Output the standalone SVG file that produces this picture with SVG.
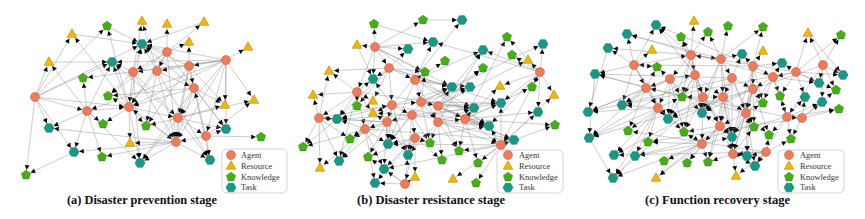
<svg xmlns="http://www.w3.org/2000/svg" xmlns:xlink="http://www.w3.org/1999/xlink" width="865" height="219" viewBox="0 0 865 219">
<style>
.e line{stroke:#8a8a8a;stroke-width:.55;stroke-opacity:.8;marker-end:url(#ar)}
.lg{fill:#fff;stroke:#c8c8c8;stroke-width:.8}
.lt{font-family:"Liberation Serif","Times New Roman",serif;font-size:8.4px;fill:#333}
.cap{font-family:"Liberation Serif","Times New Roman",serif;font-size:12.5px;font-weight:bold;fill:#111}
</style>
<defs>
<marker id="ar" markerUnits="userSpaceOnUse" markerWidth="12" markerHeight="8" viewBox="-12 -4 12 8" refX="0" refY="0" orient="auto"><path d="M-9.8,-2.4 L-5.2,0 L-9.8,2.4z" fill="#000"/></marker>
<circle id="ag" r="4.5" fill="#ef7b59" stroke="#b5553a" stroke-width=".5"/>
<polygon id="rs" points="0,-5.2 4.8,3.3 -4.8,3.3" fill="#f2b705" stroke="#a07a00" stroke-width=".5"/>
<polygon id="kn" points="0,-4.8 4.57,-1.48 2.82,3.88 -2.82,3.88 -4.57,-1.48" fill="#45b013" stroke="#2f7a0c" stroke-width=".5"/>
<polygon id="tk" points="5,0 2.5,4.33 -2.5,4.33 -5,0 -2.5,-4.33 2.5,-4.33" fill="#169a86" stroke="#0d6658" stroke-width=".5"/>
</defs>
<rect width="865" height="219" fill="#fff"/>

<!-- ===== Panel (a) connectors ===== -->
<g id="edges-a" class="e">
<line x1="167" y1="52" x2="142" y2="44"/><line x1="167" y1="52" x2="167" y2="24"/><line x1="167" y1="52" x2="204" y2="22"/><line x1="167" y1="52" x2="133" y2="72"/><line x1="167" y1="52" x2="129" y2="107"/><line x1="167" y1="52" x2="176" y2="142"/><line x1="167" y1="52" x2="226" y2="129"/><line x1="167" y1="52" x2="108" y2="96"/><line x1="167" y1="52" x2="157" y2="71"/><line x1="167" y1="52" x2="189" y2="42"/>
<line x1="189" y1="66" x2="142" y2="44"/><line x1="189" y1="66" x2="189" y2="42"/><line x1="189" y1="66" x2="157" y2="71"/><line x1="189" y1="66" x2="178" y2="118"/><line x1="189" y1="66" x2="176" y2="142"/><line x1="189" y1="66" x2="210" y2="160"/><line x1="189" y1="66" x2="146" y2="126"/><line x1="189" y1="66" x2="225" y2="105"/><line x1="189" y1="66" x2="194" y2="88"/>
<line x1="226" y1="60" x2="248" y2="47"/><line x1="226" y1="60" x2="142" y2="44"/><line x1="226" y1="60" x2="189" y2="66"/><line x1="226" y1="60" x2="133" y2="72"/><line x1="226" y1="60" x2="112" y2="62"/><line x1="226" y1="60" x2="129" y2="107"/><line x1="226" y1="60" x2="176" y2="142"/><line x1="226" y1="60" x2="226" y2="129"/><line x1="226" y1="60" x2="225" y2="105"/><line x1="226" y1="60" x2="87" y2="111"/><line x1="226" y1="60" x2="83" y2="78"/><line x1="226" y1="60" x2="254" y2="100"/><line x1="226" y1="60" x2="206" y2="136"/><line x1="226" y1="60" x2="178" y2="118"/>
<line x1="133" y1="72" x2="142" y2="44"/><line x1="133" y1="72" x2="112" y2="62"/><line x1="133" y1="72" x2="142" y2="21"/><line x1="133" y1="72" x2="129" y2="107"/><line x1="133" y1="72" x2="176" y2="142"/><line x1="133" y1="72" x2="108" y2="96"/><line x1="133" y1="72" x2="178" y2="118"/><line x1="133" y1="72" x2="140" y2="163"/>
<line x1="157" y1="71" x2="142" y2="44"/><line x1="157" y1="71" x2="142" y2="21"/><line x1="157" y1="71" x2="176" y2="142"/><line x1="157" y1="71" x2="146" y2="126"/><line x1="157" y1="71" x2="129" y2="107"/><line x1="157" y1="71" x2="194" y2="88"/><line x1="157" y1="71" x2="210" y2="160"/>
<line x1="194" y1="88" x2="176" y2="142"/><line x1="194" y1="88" x2="178" y2="118"/><line x1="194" y1="88" x2="226" y2="129"/><line x1="194" y1="88" x2="225" y2="105"/><line x1="194" y1="88" x2="142" y2="44"/><line x1="194" y1="88" x2="129" y2="107"/><line x1="194" y1="88" x2="140" y2="163"/><line x1="194" y1="88" x2="108" y2="96"/>
<line x1="35" y1="97" x2="72" y2="34"/><line x1="35" y1="97" x2="49" y2="62"/><line x1="35" y1="97" x2="107" y2="26"/><line x1="35" y1="97" x2="49" y2="128"/><line x1="35" y1="97" x2="74" y2="152"/><line x1="35" y1="97" x2="87" y2="111"/><line x1="35" y1="97" x2="142" y2="44"/><line x1="35" y1="97" x2="26" y2="175"/><line x1="35" y1="97" x2="129" y2="107"/><line x1="35" y1="97" x2="112" y2="62"/>
<line x1="87" y1="111" x2="83" y2="78"/><line x1="87" y1="111" x2="112" y2="62"/><line x1="87" y1="111" x2="103" y2="124"/><line x1="87" y1="111" x2="49" y2="128"/><line x1="87" y1="111" x2="74" y2="152"/><line x1="87" y1="111" x2="102" y2="157"/><line x1="87" y1="111" x2="129" y2="107"/><line x1="87" y1="111" x2="49" y2="62"/><line x1="87" y1="111" x2="140" y2="163"/>
<line x1="129" y1="107" x2="142" y2="44"/><line x1="129" y1="107" x2="112" y2="62"/><line x1="129" y1="107" x2="108" y2="96"/><line x1="129" y1="107" x2="146" y2="126"/><line x1="129" y1="107" x2="130" y2="143"/><line x1="129" y1="107" x2="140" y2="163"/><line x1="129" y1="107" x2="176" y2="142"/><line x1="129" y1="107" x2="178" y2="118"/><line x1="129" y1="107" x2="103" y2="124"/><line x1="129" y1="107" x2="72" y2="34"/><line x1="129" y1="107" x2="107" y2="26"/>
<line x1="178" y1="118" x2="226" y2="129"/><line x1="178" y1="118" x2="206" y2="136"/><line x1="178" y1="118" x2="176" y2="142"/><line x1="178" y1="118" x2="225" y2="105"/><line x1="178" y1="118" x2="146" y2="126"/><line x1="178" y1="118" x2="210" y2="160"/><line x1="178" y1="118" x2="140" y2="163"/><line x1="178" y1="118" x2="254" y2="100"/><line x1="178" y1="118" x2="112" y2="62"/>
<line x1="206" y1="136" x2="261" y2="137"/><line x1="206" y1="136" x2="210" y2="160"/><line x1="206" y1="136" x2="226" y2="129"/><line x1="206" y1="136" x2="176" y2="142"/><line x1="206" y1="136" x2="254" y2="100"/><line x1="206" y1="136" x2="194" y2="88"/>
<line x1="176" y1="142" x2="140" y2="163"/><line x1="176" y1="142" x2="130" y2="143"/><line x1="176" y1="142" x2="210" y2="160"/><line x1="176" y1="142" x2="74" y2="152"/><line x1="176" y1="142" x2="102" y2="157"/><line x1="176" y1="142" x2="129" y2="107"/><line x1="176" y1="142" x2="49" y2="128"/>
<line x1="74" y1="152" x2="26" y2="175"/><line x1="107" y1="26" x2="142" y2="44"/><line x1="72" y1="34" x2="142" y2="44"/><line x1="204" y1="22" x2="142" y2="44"/><line x1="49" y1="62" x2="112" y2="62"/>
</g>

<!-- ===== Panel (a) nodes ===== -->
<g id="a-A1"><use href="#ag" x="167" y="52"/></g><g id="a-A2"><use href="#ag" x="189" y="66"/></g><g id="a-A3"><use href="#ag" x="226" y="60"/></g><g id="a-A4"><use href="#ag" x="133" y="72"/></g><g id="a-A5"><use href="#ag" x="157" y="71"/></g><g id="a-A6"><use href="#ag" x="194" y="88"/></g><g id="a-A7"><use href="#ag" x="35" y="97"/></g><g id="a-A8"><use href="#ag" x="87" y="111"/></g><g id="a-A9"><use href="#ag" x="129" y="107"/></g><g id="a-A10"><use href="#ag" x="178" y="118"/></g><g id="a-A11"><use href="#ag" x="206" y="136"/></g><g id="a-A12"><use href="#ag" x="176" y="142"/></g>
<g id="a-R1"><use href="#rs" x="142" y="21"/></g><g id="a-R2"><use href="#rs" x="167" y="24"/></g><g id="a-R3"><use href="#rs" x="204" y="22"/></g><g id="a-R4"><use href="#rs" x="72" y="34"/></g><g id="a-R5"><use href="#rs" x="189" y="42"/></g><g id="a-R6"><use href="#rs" x="248" y="47"/></g><g id="a-R7"><use href="#rs" x="49" y="62"/></g><g id="a-R8"><use href="#rs" x="225" y="105"/></g><g id="a-R9"><use href="#rs" x="254" y="100"/></g><g id="a-R10"><use href="#rs" x="130" y="143"/></g>
<g id="a-K1"><use href="#kn" x="107" y="26"/></g><g id="a-K2"><use href="#kn" x="83" y="78"/></g><g id="a-K3"><use href="#kn" x="108" y="96"/></g><g id="a-K4"><use href="#kn" x="103" y="124"/></g><g id="a-K5"><use href="#kn" x="146" y="126"/></g><g id="a-K6"><use href="#kn" x="102" y="157"/></g><g id="a-K7"><use href="#kn" x="261" y="137"/></g><g id="a-K8"><use href="#kn" x="26" y="175"/></g>
<g id="a-T1"><use href="#tk" x="142" y="44"/></g><g id="a-T2"><use href="#tk" x="112" y="62"/></g><g id="a-T3"><use href="#tk" x="49" y="128"/></g><g id="a-T4"><use href="#tk" x="74" y="152"/></g><g id="a-T5"><use href="#tk" x="140" y="163"/></g><g id="a-T6"><use href="#tk" x="210" y="160"/></g><g id="a-T7"><use href="#tk" x="226" y="129"/></g>

<g id="legend-a">
<rect class="lg" x="222" y="149" width="65" height="44" rx="5"/>
<use href="#ag" x="231" y="155"/><text class="lt" x="241" y="158">Agent</text>
<use href="#rs" x="231" y="166"/><text class="lt" x="241" y="168.7">Resource</text>
<use href="#kn" x="231" y="177"/><text class="lt" x="241" y="179.7">Knowledge</text>
<use href="#tk" x="231" y="187.5"/><text class="lt" x="241" y="190.3">Task</text>
</g>
<text class="cap" x="67" y="204" textLength="150" lengthAdjust="spacingAndGlyphs">(a) Disaster prevention stage</text>

<!-- ===== Panel (b) connectors ===== -->
<g id="edges-b" class="e">
<line x1="375" y1="47" x2="374" y2="24"/><line x1="375" y1="47" x2="357" y2="45"/><line x1="375" y1="47" x2="408" y2="49"/><line x1="375" y1="47" x2="373" y2="79"/><line x1="375" y1="47" x2="423" y2="20"/><line x1="375" y1="47" x2="433" y2="42"/><line x1="375" y1="47" x2="389" y2="68"/><line x1="375" y1="47" x2="357" y2="92"/><line x1="375" y1="47" x2="425" y2="72"/><line x1="375" y1="47" x2="452" y2="87"/><line x1="375" y1="47" x2="489" y2="126"/>
<line x1="389" y1="68" x2="373" y2="79"/><line x1="389" y1="68" x2="408" y2="49"/><line x1="389" y1="68" x2="329" y2="71"/><line x1="389" y1="68" x2="425" y2="72"/><line x1="389" y1="68" x2="415" y2="80"/><line x1="389" y1="68" x2="452" y2="87"/><line x1="389" y1="68" x2="392" y2="105"/><line x1="389" y1="68" x2="373" y2="101"/><line x1="389" y1="68" x2="337" y2="119"/><line x1="389" y1="68" x2="357" y2="106"/><line x1="389" y1="68" x2="501" y2="103"/>
<line x1="415" y1="80" x2="452" y2="87"/><line x1="415" y1="80" x2="470" y2="87"/><line x1="415" y1="80" x2="433" y2="42"/><line x1="415" y1="80" x2="445" y2="61"/><line x1="415" y1="80" x2="425" y2="72"/><line x1="415" y1="80" x2="421" y2="102"/><line x1="415" y1="80" x2="474" y2="108"/><line x1="415" y1="80" x2="489" y2="126"/><line x1="415" y1="80" x2="438" y2="122"/><line x1="415" y1="80" x2="388" y2="144"/><line x1="415" y1="80" x2="483" y2="50"/>
<line x1="357" y1="92" x2="313" y2="95"/><line x1="357" y1="92" x2="329" y2="71"/><line x1="357" y1="92" x2="373" y2="79"/><line x1="357" y1="92" x2="357" y2="106"/><line x1="357" y1="92" x2="337" y2="119"/><line x1="357" y1="92" x2="319" y2="118"/><line x1="357" y1="92" x2="373" y2="101"/><line x1="357" y1="92" x2="373" y2="113"/><line x1="357" y1="92" x2="365" y2="129"/><line x1="357" y1="92" x2="339" y2="161"/><line x1="357" y1="92" x2="474" y2="108"/>
<line x1="392" y1="105" x2="337" y2="119"/><line x1="392" y1="105" x2="373" y2="113"/><line x1="392" y1="105" x2="387" y2="122"/><line x1="392" y1="105" x2="388" y2="144"/><line x1="392" y1="105" x2="412" y2="115"/><line x1="392" y1="105" x2="350" y2="139"/><line x1="392" y1="105" x2="408" y2="155"/><line x1="392" y1="105" x2="421" y2="102"/><line x1="392" y1="105" x2="373" y2="79"/><line x1="392" y1="105" x2="452" y2="87"/><line x1="392" y1="105" x2="489" y2="126"/><line x1="392" y1="105" x2="462" y2="20"/>
<line x1="421" y1="102" x2="452" y2="87"/><line x1="421" y1="102" x2="470" y2="87"/><line x1="421" y1="102" x2="474" y2="108"/><line x1="421" y1="102" x2="425" y2="72"/><line x1="421" y1="102" x2="438" y2="106"/><line x1="421" y1="102" x2="489" y2="126"/><line x1="421" y1="102" x2="388" y2="144"/><line x1="421" y1="102" x2="438" y2="122"/><line x1="421" y1="102" x2="430" y2="143"/><line x1="421" y1="102" x2="501" y2="103"/><line x1="421" y1="102" x2="543" y2="44"/>
<line x1="438" y1="106" x2="470" y2="87"/><line x1="438" y1="106" x2="474" y2="108"/><line x1="438" y1="106" x2="489" y2="126"/><line x1="438" y1="106" x2="501" y2="103"/><line x1="438" y1="106" x2="483" y2="68"/><line x1="438" y1="106" x2="514" y2="140"/><line x1="438" y1="106" x2="465" y2="119"/><line x1="438" y1="106" x2="459" y2="151"/><line x1="438" y1="106" x2="452" y2="87"/><line x1="438" y1="106" x2="483" y2="50"/><line x1="438" y1="106" x2="528" y2="60"/>
<line x1="412" y1="115" x2="388" y2="144"/><line x1="412" y1="115" x2="408" y2="155"/><line x1="412" y1="115" x2="415" y2="138"/><line x1="412" y1="115" x2="430" y2="143"/><line x1="412" y1="115" x2="337" y2="119"/><line x1="412" y1="115" x2="489" y2="126"/><line x1="412" y1="115" x2="474" y2="108"/><line x1="412" y1="115" x2="387" y2="122"/><line x1="412" y1="115" x2="373" y2="113"/><line x1="412" y1="115" x2="483" y2="68"/>
<line x1="387" y1="122" x2="337" y2="119"/><line x1="387" y1="122" x2="373" y2="113"/><line x1="387" y1="122" x2="388" y2="144"/><line x1="387" y1="122" x2="350" y2="139"/><line x1="387" y1="122" x2="339" y2="161"/><line x1="387" y1="122" x2="384" y2="169"/><line x1="387" y1="122" x2="365" y2="129"/><line x1="387" y1="122" x2="368" y2="157"/><line x1="387" y1="122" x2="408" y2="155"/><line x1="387" y1="122" x2="319" y2="118"/><line x1="387" y1="122" x2="501" y2="103"/>
<line x1="438" y1="122" x2="489" y2="126"/><line x1="438" y1="122" x2="430" y2="143"/><line x1="438" y1="122" x2="459" y2="151"/><line x1="438" y1="122" x2="514" y2="140"/><line x1="438" y1="122" x2="501" y2="145"/><line x1="438" y1="122" x2="474" y2="108"/><line x1="438" y1="122" x2="442" y2="160"/><line x1="438" y1="122" x2="408" y2="155"/><line x1="438" y1="122" x2="465" y2="119"/><line x1="438" y1="122" x2="483" y2="50"/>
<line x1="465" y1="119" x2="489" y2="126"/><line x1="465" y1="119" x2="501" y2="103"/><line x1="465" y1="119" x2="514" y2="140"/><line x1="465" y1="119" x2="459" y2="151"/><line x1="465" y1="119" x2="478" y2="163"/><line x1="465" y1="119" x2="501" y2="145"/><line x1="465" y1="119" x2="474" y2="108"/><line x1="465" y1="119" x2="538" y2="112"/><line x1="465" y1="119" x2="532" y2="87"/><line x1="465" y1="119" x2="500" y2="86"/><line x1="465" y1="119" x2="555" y2="125"/><line x1="465" y1="119" x2="507" y2="37"/>
<line x1="365" y1="129" x2="350" y2="139"/><line x1="365" y1="129" x2="339" y2="161"/><line x1="365" y1="129" x2="303" y2="147"/><line x1="365" y1="129" x2="388" y2="144"/><line x1="365" y1="129" x2="320" y2="168"/><line x1="365" y1="129" x2="384" y2="169"/><line x1="365" y1="129" x2="337" y2="119"/><line x1="365" y1="129" x2="375" y2="183"/><line x1="365" y1="129" x2="514" y2="140"/>
<line x1="319" y1="118" x2="313" y2="95"/><line x1="319" y1="118" x2="337" y2="119"/><line x1="319" y1="118" x2="303" y2="147"/><line x1="319" y1="118" x2="339" y2="161"/><line x1="319" y1="118" x2="320" y2="168"/><line x1="319" y1="118" x2="350" y2="139"/><line x1="319" y1="118" x2="329" y2="71"/><line x1="319" y1="118" x2="392" y2="105"/>
<line x1="415" y1="138" x2="408" y2="155"/><line x1="415" y1="138" x2="430" y2="143"/><line x1="415" y1="138" x2="384" y2="169"/><line x1="415" y1="138" x2="415" y2="177"/><line x1="415" y1="138" x2="442" y2="160"/><line x1="415" y1="138" x2="388" y2="144"/><line x1="415" y1="138" x2="405" y2="184"/><line x1="415" y1="138" x2="368" y2="157"/><line x1="415" y1="138" x2="375" y2="183"/><line x1="415" y1="138" x2="489" y2="126"/>
<line x1="501" y1="145" x2="514" y2="140"/><line x1="501" y1="145" x2="478" y2="163"/><line x1="501" y1="145" x2="453" y2="179"/><line x1="501" y1="145" x2="476" y2="183"/><line x1="501" y1="145" x2="489" y2="126"/><line x1="501" y1="145" x2="555" y2="125"/><line x1="501" y1="145" x2="538" y2="112"/><line x1="501" y1="145" x2="540" y2="72"/><line x1="501" y1="145" x2="459" y2="151"/><line x1="501" y1="145" x2="501" y2="103"/><line x1="501" y1="145" x2="554" y2="95"/><line x1="501" y1="145" x2="384" y2="169"/><line x1="501" y1="145" x2="388" y2="144"/>
<line x1="540" y1="72" x2="543" y2="44"/><line x1="540" y1="72" x2="512" y2="55"/><line x1="540" y1="72" x2="528" y2="60"/><line x1="540" y1="72" x2="532" y2="87"/><line x1="540" y1="72" x2="554" y2="95"/><line x1="540" y1="72" x2="538" y2="112"/><line x1="540" y1="72" x2="501" y2="103"/><line x1="540" y1="72" x2="483" y2="50"/><line x1="540" y1="72" x2="507" y2="37"/><line x1="540" y1="72" x2="500" y2="86"/><line x1="540" y1="72" x2="489" y2="126"/><line x1="540" y1="72" x2="433" y2="42"/>
<line x1="405" y1="184" x2="375" y2="183"/><line x1="405" y1="184" x2="415" y2="177"/><line x1="405" y1="184" x2="384" y2="169"/><line x1="405" y1="184" x2="368" y2="157"/><line x1="405" y1="184" x2="408" y2="155"/>
<line x1="423" y1="20" x2="462" y2="20"/><line x1="374" y1="24" x2="433" y2="42"/><line x1="337" y1="119" x2="303" y2="147"/><line x1="357" y1="45" x2="373" y2="79"/>
</g>

<!-- ===== Panel (b) nodes ===== -->
<g id="b-A1"><use href="#ag" x="375" y="47"/></g><g id="b-A2"><use href="#ag" x="389" y="68"/></g><g id="b-A3"><use href="#ag" x="415" y="80"/></g><g id="b-A4"><use href="#ag" x="357" y="92"/></g><g id="b-A5"><use href="#ag" x="392" y="105"/></g><g id="b-A6"><use href="#ag" x="421" y="102"/></g><g id="b-A7"><use href="#ag" x="438" y="106"/></g><g id="b-A8"><use href="#ag" x="412" y="115"/></g><g id="b-A9"><use href="#ag" x="387" y="122"/></g><g id="b-A10"><use href="#ag" x="438" y="122"/></g><g id="b-A11"><use href="#ag" x="465" y="119"/></g><g id="b-A12"><use href="#ag" x="365" y="129"/></g><g id="b-A13"><use href="#ag" x="319" y="118"/></g><g id="b-A14"><use href="#ag" x="415" y="138"/></g><g id="b-A15"><use href="#ag" x="501" y="145"/></g><g id="b-A16"><use href="#ag" x="540" y="72"/></g><g id="b-A17"><use href="#ag" x="405" y="184"/></g>
<g id="b-R1"><use href="#rs" x="357" y="45"/></g><g id="b-R2"><use href="#rs" x="329" y="71"/></g><g id="b-R3"><use href="#rs" x="528" y="60"/></g><g id="b-R4"><use href="#rs" x="500" y="86"/></g><g id="b-R5"><use href="#rs" x="313" y="95"/></g><g id="b-R6"><use href="#rs" x="373" y="101"/></g><g id="b-R7"><use href="#rs" x="373" y="113"/></g><g id="b-R8"><use href="#rs" x="554" y="95"/></g><g id="b-R9"><use href="#rs" x="320" y="168"/></g><g id="b-R10"><use href="#rs" x="415" y="177"/></g><g id="b-R11"><use href="#rs" x="453" y="179"/></g>
<g id="b-K1"><use href="#kn" x="374" y="24"/></g><g id="b-K2"><use href="#kn" x="423" y="20"/></g><g id="b-K3"><use href="#kn" x="507" y="37"/></g><g id="b-K4"><use href="#kn" x="512" y="55"/></g><g id="b-K5"><use href="#kn" x="445" y="61"/></g><g id="b-K6"><use href="#kn" x="483" y="68"/></g><g id="b-K7"><use href="#kn" x="425" y="72"/></g><g id="b-K8"><use href="#kn" x="532" y="87"/></g><g id="b-K9"><use href="#kn" x="357" y="106"/></g><g id="b-K10"><use href="#kn" x="350" y="139"/></g><g id="b-K11"><use href="#kn" x="430" y="143"/></g><g id="b-K12"><use href="#kn" x="459" y="151"/></g><g id="b-K13"><use href="#kn" x="303" y="147"/></g><g id="b-K14"><use href="#kn" x="368" y="157"/></g><g id="b-K15"><use href="#kn" x="442" y="160"/></g><g id="b-K16"><use href="#kn" x="478" y="163"/></g><g id="b-K17"><use href="#kn" x="555" y="125"/></g><g id="b-K18"><use href="#kn" x="476" y="183"/></g>
<g id="b-T1"><use href="#tk" x="462" y="20"/></g><g id="b-T2"><use href="#tk" x="433" y="42"/></g><g id="b-T3"><use href="#tk" x="408" y="49"/></g><g id="b-T4"><use href="#tk" x="483" y="50"/></g><g id="b-T5"><use href="#tk" x="543" y="44"/></g><g id="b-T6"><use href="#tk" x="373" y="79"/></g><g id="b-T7"><use href="#tk" x="452" y="87"/></g><g id="b-T8"><use href="#tk" x="470" y="87"/></g><g id="b-T9"><use href="#tk" x="501" y="103"/></g><g id="b-T10"><use href="#tk" x="474" y="108"/></g><g id="b-T11"><use href="#tk" x="538" y="112"/></g><g id="b-T12"><use href="#tk" x="337" y="119"/></g><g id="b-T13"><use href="#tk" x="489" y="126"/></g><g id="b-T14"><use href="#tk" x="388" y="144"/></g><g id="b-T15"><use href="#tk" x="514" y="140"/></g><g id="b-T16"><use href="#tk" x="339" y="161"/></g><g id="b-T17"><use href="#tk" x="384" y="169"/></g><g id="b-T18"><use href="#tk" x="408" y="155"/></g><g id="b-T19"><use href="#tk" x="375" y="183"/></g>

<g id="legend-b">
<rect class="lg" x="497" y="150" width="66" height="43" rx="5"/>
<use href="#ag" x="508" y="155"/><text class="lt" x="519" y="158">Agent</text>
<use href="#rs" x="508" y="166"/><text class="lt" x="519" y="168.7">Resource</text>
<use href="#kn" x="508" y="177"/><text class="lt" x="519" y="179.7">Knowledge</text>
<use href="#tk" x="508" y="187.5"/><text class="lt" x="519" y="190.3">Task</text>
</g>
<text class="cap" x="357" y="204" textLength="148" lengthAdjust="spacingAndGlyphs">(b) Disaster resistance stage</text>

<!-- ===== Panel (c) connectors ===== -->
<g id="edges-c" class="e">
<line x1="691" y1="55" x2="694" y2="21"/><line x1="691" y1="55" x2="708" y2="32"/><line x1="691" y1="55" x2="681" y2="37"/><line x1="691" y1="55" x2="656" y2="25"/><line x1="691" y1="55" x2="695" y2="75"/><line x1="691" y1="55" x2="670" y2="79"/><line x1="691" y1="55" x2="702" y2="113"/><line x1="691" y1="55" x2="703" y2="97"/><line x1="691" y1="55" x2="682" y2="97"/><line x1="691" y1="55" x2="668" y2="119"/><line x1="691" y1="55" x2="721" y2="59"/><line x1="691" y1="55" x2="608" y2="48"/>
<line x1="721" y1="59" x2="728" y2="26"/><line x1="721" y1="59" x2="708" y2="32"/><line x1="721" y1="59" x2="742" y2="54"/><line x1="721" y1="59" x2="732" y2="78"/><line x1="721" y1="59" x2="723" y2="97"/><line x1="721" y1="59" x2="702" y2="113"/><line x1="721" y1="59" x2="763" y2="27"/><line x1="721" y1="59" x2="732" y2="137"/><line x1="721" y1="59" x2="703" y2="97"/><line x1="721" y1="59" x2="627" y2="34"/>
<line x1="753" y1="66" x2="742" y2="54"/><line x1="753" y1="66" x2="763" y2="27"/><line x1="753" y1="66" x2="763" y2="51"/><line x1="753" y1="66" x2="782" y2="63"/><line x1="753" y1="66" x2="773" y2="77"/><line x1="753" y1="66" x2="753" y2="89"/><line x1="753" y1="66" x2="763" y2="103"/><line x1="753" y1="66" x2="746" y2="113"/><line x1="753" y1="66" x2="732" y2="137"/><line x1="753" y1="66" x2="747" y2="156"/><line x1="753" y1="66" x2="656" y2="25"/><line x1="753" y1="66" x2="634" y2="65"/>
<line x1="634" y1="65" x2="627" y2="34"/><line x1="634" y1="65" x2="608" y2="48"/><line x1="634" y1="65" x2="652" y2="50"/><line x1="634" y1="65" x2="657" y2="67"/><line x1="634" y1="65" x2="595" y2="74"/><line x1="634" y1="65" x2="622" y2="105"/><line x1="634" y1="65" x2="646" y2="88"/><line x1="634" y1="65" x2="658" y2="108"/><line x1="634" y1="65" x2="656" y2="25"/><line x1="634" y1="65" x2="668" y2="119"/><line x1="634" y1="65" x2="691" y2="55"/>
<line x1="796" y1="72" x2="782" y2="63"/><line x1="796" y1="72" x2="819" y2="83"/><line x1="796" y1="72" x2="843" y2="75"/><line x1="796" y1="72" x2="808" y2="33"/><line x1="796" y1="72" x2="841" y2="35"/><line x1="796" y1="72" x2="773" y2="77"/><line x1="796" y1="72" x2="836" y2="90"/><line x1="796" y1="72" x2="805" y2="97"/><line x1="796" y1="72" x2="780" y2="96"/><line x1="796" y1="72" x2="622" y2="105"/><line x1="796" y1="72" x2="691" y2="55"/>
<line x1="823" y1="65" x2="843" y2="75"/><line x1="823" y1="65" x2="841" y2="35"/><line x1="823" y1="65" x2="808" y2="33"/><line x1="823" y1="65" x2="819" y2="83"/><line x1="823" y1="65" x2="822" y2="102"/><line x1="823" y1="65" x2="787" y2="117"/><line x1="823" y1="65" x2="836" y2="90"/><line x1="823" y1="65" x2="668" y2="119"/>
<line x1="670" y1="79" x2="657" y2="67"/><line x1="670" y1="79" x2="646" y2="88"/><line x1="670" y1="79" x2="682" y2="97"/><line x1="670" y1="79" x2="668" y2="119"/><line x1="670" y1="79" x2="695" y2="75"/><line x1="670" y1="79" x2="658" y2="108"/><line x1="670" y1="79" x2="702" y2="113"/><line x1="670" y1="79" x2="684" y2="132"/><line x1="670" y1="79" x2="622" y2="105"/><line x1="670" y1="79" x2="588" y2="112"/>
<line x1="695" y1="75" x2="681" y2="37"/><line x1="695" y1="75" x2="682" y2="97"/><line x1="695" y1="75" x2="702" y2="113"/><line x1="695" y1="75" x2="703" y2="97"/><line x1="695" y1="75" x2="723" y2="97"/><line x1="695" y1="75" x2="668" y2="119"/><line x1="695" y1="75" x2="720" y2="126"/><line x1="695" y1="75" x2="684" y2="132"/><line x1="695" y1="75" x2="656" y2="25"/><line x1="695" y1="75" x2="589" y2="138"/>
<line x1="732" y1="78" x2="742" y2="54"/><line x1="732" y1="78" x2="753" y2="89"/><line x1="732" y1="78" x2="723" y2="97"/><line x1="732" y1="78" x2="702" y2="113"/><line x1="732" y1="78" x2="746" y2="113"/><line x1="732" y1="78" x2="732" y2="137"/><line x1="732" y1="78" x2="754" y2="127"/><line x1="732" y1="78" x2="720" y2="126"/><line x1="732" y1="78" x2="588" y2="112"/><line x1="732" y1="78" x2="595" y2="74"/>
<line x1="773" y1="77" x2="782" y2="63"/><line x1="773" y1="77" x2="780" y2="96"/><line x1="773" y1="77" x2="753" y2="89"/><line x1="773" y1="77" x2="763" y2="103"/><line x1="773" y1="77" x2="787" y2="117"/><line x1="773" y1="77" x2="819" y2="83"/><line x1="773" y1="77" x2="732" y2="137"/><line x1="773" y1="77" x2="627" y2="34"/>
<line x1="646" y1="88" x2="595" y2="74"/><line x1="646" y1="88" x2="622" y2="105"/><line x1="646" y1="88" x2="657" y2="67"/><line x1="646" y1="88" x2="658" y2="108"/><line x1="646" y1="88" x2="588" y2="112"/><line x1="646" y1="88" x2="628" y2="131"/><line x1="646" y1="88" x2="668" y2="119"/><line x1="646" y1="88" x2="589" y2="138"/>
<line x1="753" y1="89" x2="763" y2="103"/><line x1="753" y1="89" x2="746" y2="113"/><line x1="753" y1="89" x2="732" y2="137"/><line x1="753" y1="89" x2="754" y2="127"/><line x1="753" y1="89" x2="702" y2="113"/><line x1="753" y1="89" x2="769" y2="135"/><line x1="753" y1="89" x2="733" y2="154"/><line x1="753" y1="89" x2="589" y2="138"/>
<line x1="703" y1="97" x2="682" y2="97"/><line x1="703" y1="97" x2="702" y2="113"/><line x1="703" y1="97" x2="668" y2="119"/><line x1="703" y1="97" x2="720" y2="126"/><line x1="703" y1="97" x2="702" y2="144"/><line x1="703" y1="97" x2="684" y2="132"/><line x1="703" y1="97" x2="732" y2="137"/><line x1="703" y1="97" x2="723" y2="97"/><line x1="703" y1="97" x2="613" y2="178"/>
<line x1="723" y1="97" x2="702" y2="113"/><line x1="723" y1="97" x2="746" y2="113"/><line x1="723" y1="97" x2="732" y2="137"/><line x1="723" y1="97" x2="720" y2="126"/><line x1="723" y1="97" x2="754" y2="127"/><line x1="723" y1="97" x2="733" y2="154"/><line x1="723" y1="97" x2="708" y2="162"/><line x1="723" y1="97" x2="614" y2="155"/>
<line x1="658" y1="108" x2="622" y2="105"/><line x1="658" y1="108" x2="668" y2="119"/><line x1="658" y1="108" x2="628" y2="131"/><line x1="658" y1="108" x2="684" y2="132"/><line x1="658" y1="108" x2="648" y2="142"/><line x1="658" y1="108" x2="635" y2="156"/><line x1="658" y1="108" x2="589" y2="138"/><line x1="658" y1="108" x2="702" y2="144"/><line x1="658" y1="108" x2="682" y2="97"/><line x1="658" y1="108" x2="588" y2="112"/><line x1="658" y1="108" x2="614" y2="155"/><line x1="658" y1="108" x2="613" y2="178"/>
<line x1="746" y1="113" x2="732" y2="137"/><line x1="746" y1="113" x2="754" y2="127"/><line x1="746" y1="113" x2="769" y2="135"/><line x1="746" y1="113" x2="733" y2="154"/><line x1="746" y1="113" x2="747" y2="156"/><line x1="746" y1="113" x2="720" y2="126"/><line x1="746" y1="113" x2="763" y2="103"/><line x1="746" y1="113" x2="755" y2="166"/><line x1="746" y1="113" x2="595" y2="74"/>
<line x1="787" y1="117" x2="780" y2="96"/><line x1="787" y1="117" x2="805" y2="97"/><line x1="787" y1="117" x2="791" y2="139"/><line x1="787" y1="117" x2="769" y2="135"/><line x1="787" y1="117" x2="822" y2="102"/><line x1="787" y1="117" x2="839" y2="109"/><line x1="787" y1="117" x2="802" y2="118"/><line x1="787" y1="117" x2="755" y2="166"/><line x1="787" y1="117" x2="635" y2="156"/><line x1="787" y1="117" x2="646" y2="88"/>
<line x1="802" y1="118" x2="822" y2="102"/><line x1="802" y1="118" x2="839" y2="109"/><line x1="802" y1="118" x2="791" y2="139"/><line x1="802" y1="118" x2="805" y2="97"/><line x1="802" y1="118" x2="836" y2="90"/><line x1="802" y1="118" x2="648" y2="142"/>
<line x1="720" y1="126" x2="732" y2="137"/><line x1="720" y1="126" x2="702" y2="144"/><line x1="720" y1="126" x2="684" y2="132"/><line x1="720" y1="126" x2="733" y2="154"/><line x1="720" y1="126" x2="708" y2="162"/><line x1="720" y1="126" x2="702" y2="113"/><line x1="720" y1="126" x2="687" y2="163"/><line x1="720" y1="126" x2="656" y2="178"/>
<line x1="702" y1="144" x2="687" y2="163"/><line x1="702" y1="144" x2="708" y2="162"/><line x1="702" y1="144" x2="732" y2="137"/><line x1="702" y1="144" x2="664" y2="161"/><line x1="702" y1="144" x2="684" y2="132"/><line x1="702" y1="144" x2="656" y2="178"/><line x1="702" y1="144" x2="648" y2="142"/><line x1="702" y1="144" x2="635" y2="156"/><line x1="702" y1="144" x2="613" y2="178"/>
<line x1="733" y1="154" x2="747" y2="156"/><line x1="733" y1="154" x2="736" y2="176"/><line x1="733" y1="154" x2="755" y2="166"/><line x1="733" y1="154" x2="708" y2="162"/><line x1="733" y1="154" x2="732" y2="137"/><line x1="733" y1="154" x2="754" y2="127"/>
<line x1="766" y1="152" x2="747" y2="156"/><line x1="766" y1="152" x2="755" y2="166"/><line x1="766" y1="152" x2="769" y2="135"/><line x1="766" y1="152" x2="791" y2="139"/><line x1="766" y1="152" x2="736" y2="176"/><line x1="766" y1="152" x2="733" y2="154"/><line x1="766" y1="152" x2="614" y2="155"/><line x1="766" y1="152" x2="628" y2="131"/>
<line x1="608" y1="48" x2="588" y2="112"/><line x1="595" y1="74" x2="589" y2="138"/><line x1="589" y1="138" x2="613" y2="178"/><line x1="648" y1="142" x2="613" y2="178"/><line x1="808" y1="33" x2="843" y2="75"/>
</g>

<!-- ===== Panel (c) nodes ===== -->
<g id="c-A1"><use href="#ag" x="691" y="55"/></g><g id="c-A2"><use href="#ag" x="721" y="59"/></g><g id="c-A3"><use href="#ag" x="753" y="66"/></g><g id="c-A4"><use href="#ag" x="634" y="65"/></g><g id="c-A5"><use href="#ag" x="796" y="72"/></g><g id="c-A6"><use href="#ag" x="823" y="65"/></g><g id="c-A7"><use href="#ag" x="670" y="79"/></g><g id="c-A8"><use href="#ag" x="695" y="75"/></g><g id="c-A9"><use href="#ag" x="732" y="78"/></g><g id="c-A10"><use href="#ag" x="773" y="77"/></g><g id="c-A11"><use href="#ag" x="646" y="88"/></g><g id="c-A12"><use href="#ag" x="753" y="89"/></g><g id="c-A13"><use href="#ag" x="703" y="97"/></g><g id="c-A14"><use href="#ag" x="723" y="97"/></g><g id="c-A15"><use href="#ag" x="658" y="108"/></g><g id="c-A16"><use href="#ag" x="746" y="113"/></g><g id="c-A17"><use href="#ag" x="787" y="117"/></g><g id="c-A18"><use href="#ag" x="802" y="118"/></g><g id="c-A19"><use href="#ag" x="720" y="126"/></g><g id="c-A20"><use href="#ag" x="702" y="144"/></g><g id="c-A21"><use href="#ag" x="733" y="154"/></g><g id="c-A22"><use href="#ag" x="766" y="152"/></g>
<g id="c-R1"><use href="#rs" x="694" y="21"/></g><g id="c-R2"><use href="#rs" x="808" y="33"/></g><g id="c-R3"><use href="#rs" x="652" y="50"/></g><g id="c-R4"><use href="#rs" x="763" y="51"/></g><g id="c-R5"><use href="#rs" x="656" y="178"/></g><g id="c-R6"><use href="#rs" x="736" y="176"/></g>
<g id="c-K1"><use href="#kn" x="728" y="26"/></g><g id="c-K2"><use href="#kn" x="763" y="27"/></g><g id="c-K3"><use href="#kn" x="708" y="32"/></g><g id="c-K4"><use href="#kn" x="681" y="37"/></g><g id="c-K5"><use href="#kn" x="841" y="35"/></g><g id="c-K6"><use href="#kn" x="657" y="67"/></g><g id="c-K7"><use href="#kn" x="780" y="96"/></g><g id="c-K8"><use href="#kn" x="682" y="97"/></g><g id="c-K9"><use href="#kn" x="763" y="103"/></g><g id="c-K10"><use href="#kn" x="836" y="90"/></g><g id="c-K11"><use href="#kn" x="839" y="109"/></g><g id="c-K12"><use href="#kn" x="628" y="131"/></g><g id="c-K13"><use href="#kn" x="684" y="132"/></g><g id="c-K14"><use href="#kn" x="648" y="142"/></g><g id="c-K15"><use href="#kn" x="769" y="135"/></g><g id="c-K16"><use href="#kn" x="791" y="139"/></g><g id="c-K17"><use href="#kn" x="754" y="127"/></g><g id="c-K18"><use href="#kn" x="664" y="161"/></g><g id="c-K19"><use href="#kn" x="687" y="163"/></g><g id="c-K20"><use href="#kn" x="708" y="162"/></g>
<g id="c-T1"><use href="#tk" x="656" y="25"/></g><g id="c-T2"><use href="#tk" x="627" y="34"/></g><g id="c-T3"><use href="#tk" x="608" y="48"/></g><g id="c-T4"><use href="#tk" x="595" y="74"/></g><g id="c-T5"><use href="#tk" x="742" y="54"/></g><g id="c-T6"><use href="#tk" x="782" y="63"/></g><g id="c-T7"><use href="#tk" x="819" y="83"/></g><g id="c-T8"><use href="#tk" x="843" y="75"/></g><g id="c-T9"><use href="#tk" x="805" y="97"/></g><g id="c-T10"><use href="#tk" x="822" y="102"/></g><g id="c-T11"><use href="#tk" x="622" y="105"/></g><g id="c-T12"><use href="#tk" x="588" y="112"/></g><g id="c-T13"><use href="#tk" x="702" y="113"/></g><g id="c-T14"><use href="#tk" x="668" y="119"/></g><g id="c-T15"><use href="#tk" x="732" y="137"/></g><g id="c-T16"><use href="#tk" x="589" y="138"/></g><g id="c-T17"><use href="#tk" x="635" y="156"/></g><g id="c-T18"><use href="#tk" x="614" y="155"/></g><g id="c-T19"><use href="#tk" x="747" y="156"/></g><g id="c-T20"><use href="#tk" x="755" y="166"/></g><g id="c-T21"><use href="#tk" x="613" y="178"/></g>

<g id="legend-c">
<rect class="lg" x="778" y="150" width="66" height="43" rx="5"/>
<use href="#ag" x="789" y="155"/><text class="lt" x="800" y="158">Agent</text>
<use href="#rs" x="789" y="166"/><text class="lt" x="800" y="168.7">Resource</text>
<use href="#kn" x="789" y="177"/><text class="lt" x="800" y="179.7">Knowledge</text>
<use href="#tk" x="789" y="187.5"/><text class="lt" x="800" y="190.3">Task</text>
</g>
<text class="cap" x="645" y="204" textLength="145" lengthAdjust="spacingAndGlyphs">(c) Function recovery stage</text>
</svg>
